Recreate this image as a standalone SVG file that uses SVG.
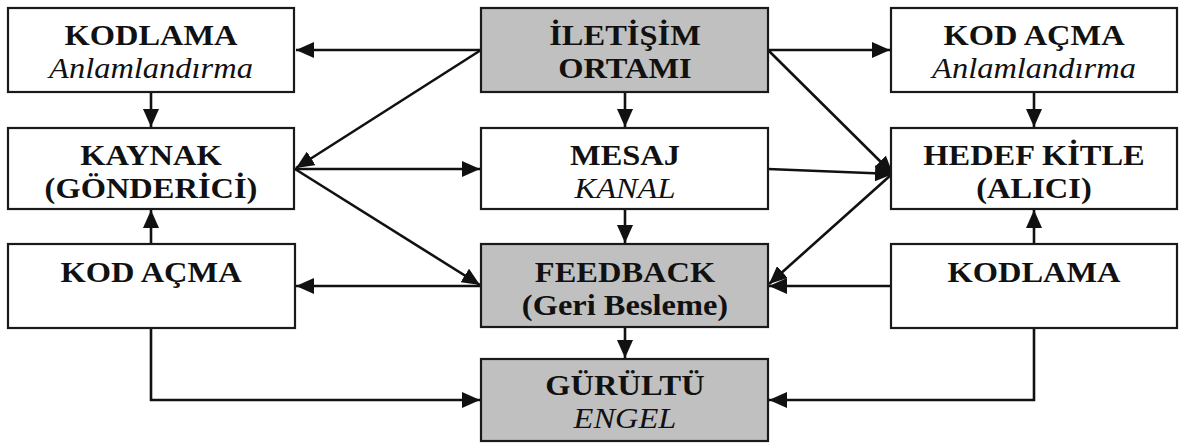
<svg xmlns="http://www.w3.org/2000/svg" width="1179" height="444" viewBox="0 0 1179 444">
<style>
.box{fill:#ffffff;stroke:#1a1a1a;stroke-width:2.2}
.gray{fill:#c0c0c0}
.t{font-family:"Liberation Serif","Times New Roman",serif;font-size:29px;font-weight:bold;fill:#111111;text-anchor:middle}
.i{font-style:italic;font-weight:normal}
.c{fill:none;stroke:#111111;stroke-width:2.6;marker-end:url(#ah)}
</style>
<defs>
<marker id="ah" markerUnits="userSpaceOnUse" markerWidth="18" markerHeight="16" refX="18" refY="8" orient="auto" viewBox="0 0 18 16">
<path d="M0,0 L18,8 L0,16 Z" fill="#111111"/>
</marker>
</defs>
<rect width="1179" height="444" fill="#ffffff"/>
<g id="connectors">
<line class="c" x1="481" y1="50" x2="296" y2="50"/>
<line class="c" x1="481" y1="50" x2="296" y2="168"/>
<line class="c" x1="768" y1="50" x2="890" y2="50"/>
<line class="c" x1="768" y1="50" x2="893" y2="174"/>
<line class="c" x1="625" y1="92" x2="625" y2="127"/>
<line class="c" x1="151" y1="92" x2="151" y2="127"/>
<line class="c" x1="1034" y1="92" x2="1034" y2="127"/>
<line class="c" x1="295" y1="169" x2="480" y2="169"/>
<line class="c" x1="295" y1="169" x2="480" y2="285"/>
<line class="c" x1="768" y1="169" x2="893" y2="174"/>
<line class="c" x1="625" y1="209" x2="625" y2="243"/>
<line class="c" x1="481" y1="286" x2="296" y2="286"/>
<line class="c" x1="625" y1="327" x2="625" y2="358"/>
<line class="c" x1="891" y1="286" x2="769" y2="286"/>
<line class="c" x1="892" y1="174" x2="769" y2="284"/>
<line class="c" x1="151" y1="244" x2="151" y2="210"/>
<line class="c" x1="1034" y1="244" x2="1034" y2="210"/>
<polyline class="c" points="151,328 151,400 480,400"/>
<polyline class="c" points="1034,328 1034,400 769,400"/>
</g>
<g id="kodlama-top">
<rect class="box" x="8" y="8" width="286" height="84"/>
<text class="t" transform="translate(151 45) scale(1.12 1)">KODLAMA</text>
<text class="t i" transform="translate(151 78) scale(1.12 1)">Anlamlandırma</text>
</g>
<g id="iletisim">
<rect class="box gray" x="481" y="8" width="287" height="84"/>
<text class="t" transform="translate(625 45) scale(1.12 1)">İLETİŞİM</text>
<text class="t" transform="translate(625 78) scale(1.12 1)">ORTAMI</text>
</g>
<g id="kodacma-top">
<rect class="box" x="891" y="8" width="286" height="84"/>
<text class="t" transform="translate(1034 45) scale(1.12 1)">KOD AÇMA</text>
<text class="t i" transform="translate(1034 78) scale(1.12 1)">Anlamlandırma</text>
</g>
<g id="kaynak">
<rect class="box" x="8" y="128" width="286" height="81"/>
<text class="t" transform="translate(151 165) scale(1.12 1)">KAYNAK</text>
<text class="t" transform="translate(151 198) scale(1.12 1)">(GÖNDERİCİ)</text>
</g>
<g id="mesaj">
<rect class="box" x="481" y="128" width="287" height="81"/>
<text class="t" transform="translate(625 165) scale(1.12 1)">MESAJ</text>
<text class="t i" transform="translate(625 198) scale(1.12 1)">KANAL</text>
</g>
<g id="hedef">
<rect class="box" x="891" y="128" width="286" height="81"/>
<text class="t" transform="translate(1034 165) scale(1.12 1)">HEDEF KİTLE</text>
<text class="t" transform="translate(1034 198) scale(1.12 1)">(ALICI)</text>
</g>
<g id="kodacma-bottom">
<rect class="box" x="8" y="244" width="287" height="84"/>
<text class="t" transform="translate(151 282) scale(1.12 1)">KOD AÇMA</text>
</g>
<g id="feedback">
<rect class="box gray" x="481" y="244" width="287" height="83"/>
<text class="t" transform="translate(625 282) scale(1.12 1)">FEEDBACK</text>
<text class="t" transform="translate(625 315) scale(1.12 1)">(Geri Besleme)</text>
</g>
<g id="kodlama-bottom">
<rect class="box" x="891" y="244" width="286" height="84"/>
<text class="t" transform="translate(1034 282) scale(1.12 1)">KODLAMA</text>
</g>
<g id="gurultu">
<rect class="box gray" x="481" y="359" width="287" height="82"/>
<text class="t" transform="translate(625 395) scale(1.12 1)">GÜRÜLTÜ</text>
<text class="t i" transform="translate(625 428) scale(1.12 1)">ENGEL</text>
</g>
</svg>
